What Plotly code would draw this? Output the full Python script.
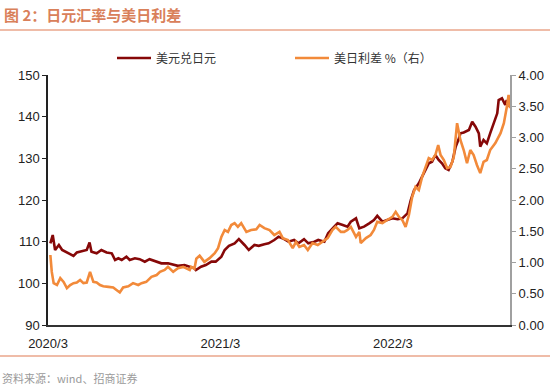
import plotly.graph_objects as go

# 美元兑日元 (left axis)
usdjpy_dates = [
    "2020-03-06", "2020-03-11", "2020-03-16", "2020-03-24", "2020-03-31", "2020-04-06", "2020-04-13",
    "2020-04-24", "2020-05-01", "2020-05-11", "2020-05-22", "2020-05-28", "2020-06-01", "2020-06-12",
    "2020-06-22", "2020-07-03", "2020-07-14", "2020-07-21", "2020-07-28", "2020-08-04", "2020-08-14",
    "2020-08-21", "2020-09-01", "2020-09-11", "2020-09-22", "2020-10-02", "2020-10-17", "2020-10-27",
    "2020-11-10", "2020-11-21", "2020-12-01", "2020-12-15", "2020-12-26", "2021-01-05", "2021-01-08",
    "2021-01-19", "2021-01-29", "2021-02-10", "2021-02-19", "2021-03-03", "2021-03-10", "2021-03-19",
    "2021-03-31", "2021-04-09", "2021-04-21", "2021-04-30", "2021-05-12", "2021-05-21", "2021-06-02",
    "2021-06-11", "2021-06-23", "2021-07-02", "2021-07-14", "2021-07-23", "2021-08-04", "2021-08-13",
    "2021-08-25", "2021-09-03", "2021-09-16", "2021-09-24", "2021-10-07", "2021-10-15", "2021-10-28",
    "2021-11-04", "2021-11-15", "2021-11-25", "2021-12-02", "2021-12-13", "2021-12-20", "2021-12-30",
    "2022-01-10", "2022-01-20", "2022-01-27", "2022-02-07", "2022-02-17", "2022-02-28", "2022-03-11",
    "2022-03-21", "2022-04-01", "2022-04-08", "2022-04-15", "2022-04-25", "2022-05-02", "2022-05-09",
    "2022-05-16", "2022-05-23", "2022-05-30", "2022-06-06", "2022-06-13", "2022-06-20", "2022-06-27",
    "2022-07-05", "2022-07-12", "2022-07-19", "2022-07-22", "2022-07-29", "2022-08-09", "2022-08-16",
    "2022-08-23", "2022-08-30", "2022-09-02", "2022-09-09", "2022-09-16", "2022-09-23", "2022-09-30",
    "2022-10-08", "2022-10-11", "2022-10-18", "2022-10-25", "2022-10-28", "2022-11-01",
]
usdjpy_values = [
    109.6, 111.6, 108.0, 109.2, 108.0, 107.6, 107.2,
    106.6, 107.4, 107.6, 108.0, 109.8, 107.6, 107.2,
    108.0, 107.4, 107.2, 105.6, 106.0, 105.6, 106.4,
    105.6, 106.0, 105.8, 105.2, 105.8, 105.2, 104.8,
    104.8, 104.4, 104.2, 104.4, 104.0, 103.6, 103.2,
    104.0, 104.4, 105.2, 105.2, 106.4, 108.0, 109.0,
    109.6, 110.6, 109.2, 108.0, 109.2, 109.0, 109.4,
    109.6, 110.4, 111.2, 110.6, 110.0, 110.4, 109.6,
    110.6, 109.6, 110.0, 110.4, 110.0, 112.0, 113.6,
    114.4, 114.0, 113.6, 114.8, 115.6, 113.2, 113.6,
    114.4, 115.2, 116.2, 114.8, 115.2, 115.6, 115.4,
    115.6, 116.8, 120.0, 122.4, 124.0, 125.6, 127.2,
    128.8, 129.2, 130.8, 129.6, 128.8, 127.6, 127.2,
    129.2, 132.8, 134.8, 136.0, 136.2, 136.8, 138.8,
    137.6, 136.0, 132.8, 134.4, 133.6, 136.0, 138.4,
    140.8, 144.0, 144.4, 142.8, 144.0, 142.4,
]

# 美日利差 % (right axis)
spread_dates = [
    "2020-03-06", "2020-03-09", "2020-03-13", "2020-03-20", "2020-03-27", "2020-04-03", "2020-04-10",
    "2020-04-17", "2020-04-24", "2020-05-01", "2020-05-08", "2020-05-15", "2020-05-22", "2020-05-29",
    "2020-06-05", "2020-06-12", "2020-06-19", "2020-06-26", "2020-07-07", "2020-07-17", "2020-07-24",
    "2020-07-31", "2020-08-07", "2020-08-18", "2020-08-28", "2020-09-08", "2020-09-15", "2020-09-25",
    "2020-10-06", "2020-10-17", "2020-10-24", "2020-11-03", "2020-11-10", "2020-11-21", "2020-12-01",
    "2020-12-12", "2020-12-26", "2020-12-29", "2021-01-05", "2021-01-09", "2021-01-16", "2021-01-26",
    "2021-02-06", "2021-02-17", "2021-02-24", "2021-03-03", "2021-03-10", "2021-03-17", "2021-03-24",
    "2021-03-31", "2021-04-07", "2021-04-14", "2021-04-25", "2021-05-05", "2021-05-16", "2021-05-23",
    "2021-06-02", "2021-06-13", "2021-06-23", "2021-07-04", "2021-07-11", "2021-07-22", "2021-08-01",
    "2021-08-08", "2021-08-15", "2021-08-25", "2021-09-02", "2021-09-12", "2021-09-23", "2021-10-03",
    "2021-10-14", "2021-10-24", "2021-10-31", "2021-11-11", "2021-11-18", "2021-11-25", "2021-12-02",
    "2021-12-13", "2021-12-20", "2021-12-23", "2022-01-03", "2022-01-13", "2022-01-20", "2022-01-27",
    "2022-02-07", "2022-02-17", "2022-02-28", "2022-03-07", "2022-03-14", "2022-03-21", "2022-03-28",
    "2022-04-04", "2022-04-11", "2022-04-18", "2022-04-25", "2022-05-02", "2022-05-09", "2022-05-16",
    "2022-05-23", "2022-05-30", "2022-06-05", "2022-06-10", "2022-06-17", "2022-06-24", "2022-07-01",
    "2022-07-08", "2022-07-15", "2022-07-22", "2022-07-29", "2022-08-05", "2022-08-12", "2022-08-19",
    "2022-08-26", "2022-09-02", "2022-09-09", "2022-09-16", "2022-09-23", "2022-10-04", "2022-10-15",
    "2022-10-22", "2022-10-29", "2022-11-01", "2022-11-04",
]
spread_values = [
    1.12, 0.85, 0.67, 0.64, 0.75, 0.69, 0.59,
    0.64, 0.67, 0.68, 0.72, 0.67, 0.68, 0.85,
    0.69, 0.68, 0.64, 0.62, 0.61, 0.60, 0.56,
    0.52, 0.60, 0.62, 0.67, 0.64, 0.67, 0.69,
    0.77, 0.80, 0.85, 0.88, 0.93, 0.85, 0.91,
    0.93, 0.88, 0.93, 0.90, 1.06, 1.11, 1.01,
    1.07, 1.15, 1.23, 1.41, 1.52, 1.49, 1.60,
    1.63, 1.57, 1.63, 1.49, 1.52, 1.53, 1.60,
    1.55, 1.52, 1.44, 1.49, 1.39, 1.36, 1.23,
    1.33, 1.25, 1.28, 1.20, 1.31, 1.28, 1.33,
    1.39, 1.52, 1.57, 1.49, 1.49, 1.52, 1.57,
    1.41, 1.49, 1.31, 1.39, 1.44, 1.52, 1.65,
    1.63, 1.68, 1.73, 1.81, 1.73, 1.68, 1.57,
    1.76, 2.05, 2.21, 2.16, 2.37, 2.53, 2.67,
    2.64, 2.72, 2.88, 2.72, 2.64, 2.51, 2.53,
    2.69, 3.23, 2.96, 2.80, 2.59, 2.80, 2.72,
    2.56, 2.43, 2.61, 2.64, 2.80, 2.91, 3.07,
    3.23, 3.52, 3.68, 3.47,
]

x_tick_vals = ["2020-03-01", "2021-03-01", "2022-03-01"]
x_tick_text = ["2020/3", "2021/3", "2022/3"]
left_ticks = [90, 100, 110, 120, 130, 140, 150]
right_ticks = [0, 0.5, 1.0, 1.5, 2.0, 2.5, 3.0, 3.5, 4.0]

DARK_RED = "#860808"
ORANGE = "#F28A3A"
ACCENT = "#E07A52"
CJK = "Noto Sans CJK SC"
LAT = "Liberation Sans, Arial"

PW, PH = 462, 250  # plot area size in px (for paper-relative placement of decorations)

fig = go.Figure()
fig.add_trace(go.Scatter(x=spread_dates, y=spread_values, name="美日利差 %（右）", mode="lines",
                         line=dict(color=ORANGE, width=2.6), yaxis="y2", legendrank=2))
fig.add_trace(go.Scatter(x=usdjpy_dates, y=usdjpy_values, name="美元兑日元", mode="lines",
                         line=dict(color=DARK_RED, width=2.6), yaxis="y", legendrank=1))

fig.update_layout(
    width=550, height=388,
    margin=dict(l=48, r=40, t=75, b=63, autoexpand=False),
    paper_bgcolor="white", plot_bgcolor="white",
    showlegend=True,
    legend=dict(orientation="h", x=(112 - 48) / PW, y=1 + 17 / PH, xanchor="left", yanchor="middle",
                font=dict(family=CJK, size=12, color="#333333"),
                itemwidth=34, entrywidth=129, entrywidthmode="pixels",
                bgcolor="rgba(0,0,0,0)"),
    xaxis=dict(type="date", range=["2020-03-01", "2022-11-04"],
               tickvals=x_tick_vals, ticktext=x_tick_text,
               showgrid=False, zeroline=False, showline=True, linecolor="#333333", linewidth=1.5,
               ticks="", ticklabelstandoff=6,
               tickfont=dict(family=LAT, size=13, color="#222222")),
    yaxis=dict(range=[90, 150], tickvals=left_ticks, showgrid=False, zeroline=False,
               showline=True, linecolor="#222222", linewidth=1.5, ticks="outside", ticklen=4,
               tickcolor="#222222", tickfont=dict(family=LAT, size=13, color="#222222")),
    yaxis2=dict(range=[0, 4], tickvals=right_ticks, tickformat=".2f", overlaying="y", side="right",
                showgrid=False, zeroline=False, showline=True, linecolor="#A0A0A0", linewidth=2,
                ticks="outside", ticklen=4, tickcolor="#A0A0A0",
                tickfont=dict(family=LAT, size=13, color="#222222")),
    shapes=[
        dict(type="line", xref="paper", yref="paper", x0=-48 / PW, x1=1 + 40 / PW,
             y0=1 + 45 / PH, y1=1 + 45 / PH, line=dict(color=ACCENT, width=1.2)),
        dict(type="line", xref="paper", yref="paper", x0=-48 / PW, x1=1 + 40 / PW,
             y0=-31 / PH, y1=-31 / PH, line=dict(color=ACCENT, width=1.2)),
    ],
    annotations=[
        dict(text="<b>图 2：日元汇率与美日利差</b>", xref="paper", yref="paper",
             x=-46 / PW, y=1 + 61 / PH, xanchor="left", yanchor="middle", showarrow=False,
             font=dict(family=CJK, size=15, color="#D9805A")),
        dict(text="资料来源：wind、招商证券", xref="paper", yref="paper",
             x=-48 / PW, y=-53 / PH, xanchor="left", yanchor="middle", showarrow=False,
             font=dict(family=CJK, size=11, color="#9A9A9A")),
    ],
)

fig.write_html("out.html", config={"displayModeBar": False},
               post_script="document.body.style.margin='0';")
